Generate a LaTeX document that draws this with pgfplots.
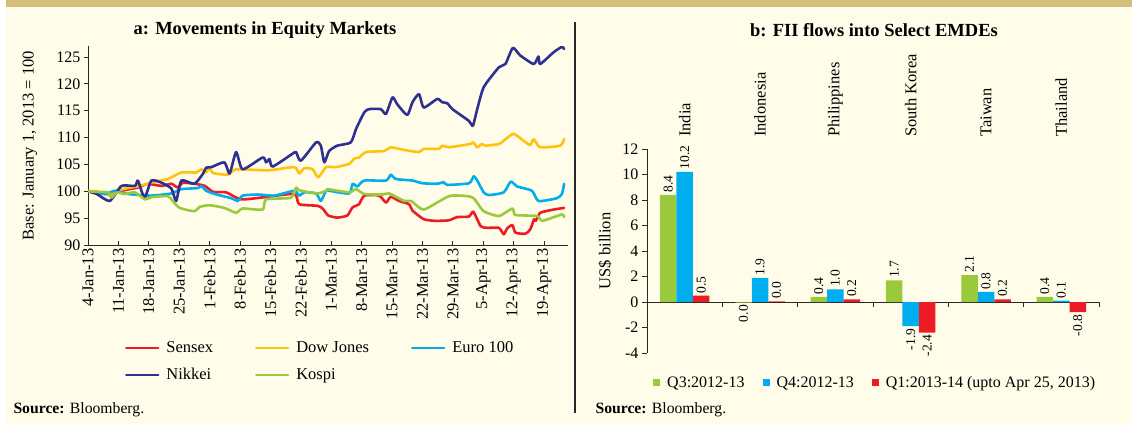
\documentclass[border=0pt]{standalone}
\usepackage{fontspec}
\setmainfont{Liberation Serif}
\usepackage{pgfplots}
\usepackage{pgfplotstable}
\pgfplotsset{compat=1.18}

\definecolor{bgcream}{RGB}{255,253,233}
\definecolor{band}{RGB}{211,190,122}
\definecolor{axisgray}{RGB}{40,40,40}
\definecolor{csensex}{RGB}{237,28,36}
\definecolor{cdow}{RGB}{255,194,14}
\definecolor{ceuro}{RGB}{0,174,239}
\definecolor{cnikkei}{RGB}{46,49,146}
\definecolor{ckospi}{RGB}{154,202,60}

\newcommand{\fs}[1]{\fontsize{#1bp}{#1bp}\selectfont}
% value labels: above (vp) or below (vn) the bar end
\newcommand{\vp}[1]{\makebox[0pt][l]{\hspace{2.5bp}#1}}
\newcommand{\vn}[1]{\makebox[0pt][r]{#1\hspace{2.5bp}}}

% FII flows, US$ billion
\pgfplotstableread{
x y lab
0 8.4 \vp{8.4}
1 -0.05 \vn{0.0}
2 0.4 \vp{0.4}
3 1.7 \vp{1.7}
4 2.1 \vp{2.1}
5 0.4 \vp{0.4}
}\qthree
\pgfplotstableread{
x y lab
0 10.2 \vp{10.2}
1 1.9 \vp{1.9}
2 1.0 \vp{1.0}
3 -1.9 \vn{-1.9}
4 0.8 \vp{0.8}
5 0.1 \vp{0.1}
}\qfour
\pgfplotstableread{
x y lab
0 0.5 \vp{0.5}
1 0.05 \vp{0.0}
2 0.2 \vp{0.2}
3 -2.4 \vn{-2.4}
4 0.2 \vp{0.2}
5 -0.8 \vn{-0.8}
}\qone

\pgfplotsset{
  valbar/.style={
    fill=#1, draw=none,
    nodes near coords,
    point meta=explicit symbolic,
    every node near coord/.append style={rotate=90, anchor=center, font=\fs{13.5}, inner sep=0pt, text=black},
    legend image code/.code={\fill[#1] (0bp,-3.5bp) rectangle (7bp,3.5bp);},
  },
}

\begin{document}
\begin{tikzpicture}[x=1bp,y=1bp]
\fill[white] (0,0) rectangle (1132,425);
\fill[bgcream] (6,0) rectangle (1132,425);
\fill[band] (6,418) rectangle (1132,425);
\draw[axisgray, line width=1.2bp] (575,12) -- (575,403);

\node[font=\fs{18.5}\bfseries] at (265,395) {a: Movements in Equity Markets};
\node[font=\fs{18.5}\bfseries] at (874,395) {b: FII flows into Select EMDEs};
\node[font=\fs{15.7}, anchor=base west] at (10,12) {\textbf{Source:} Bloomberg.};
\node[font=\fs{15.7}, anchor=base west] at (592,12) {\textbf{Source:} Bloomberg.};

\begin{axis}[
  at={(88bp,180bp)}, anchor=south west,
  scale only axis, width=480bp, height=198.7bp,
  xmin=0, xmax=110.5, ymin=90, ymax=127,
  axis x line*=bottom, axis y line*=left,
  axis line style={axisgray, line width=0.9bp, -},
  every tick/.style={axisgray, line width=0.8bp},
  major tick length=4bp,
  xtick align=inside, ytick align=outside,
  xtick={0,7,...,105},
  xticklabels={4-Jan-13,11-Jan-13,18-Jan-13,25-Jan-13,1-Feb-13,8-Feb-13,15-Feb-13,22-Feb-13,1-Mar-13,8-Mar-13,15-Mar-13,22-Mar-13,29-Mar-13,5-Apr-13,12-Apr-13,19-Apr-13},
  xticklabel style={rotate=90, anchor=east, font=\fs{16.5}},
  ytick={90,95,...,125},
  yticklabel style={font=\fs{16}},
  /pgf/number format/assume math mode=true,
  ylabel={Base: January 1, 2013 = 100},
  ylabel style={at={(axis description cs:-0.121,0.5)}, anchor=center, font=\fs{16.5}},
  legend columns=3,
  legend cell align=left,
  legend style={at={(axis description cs:0.077,-0.586)}, anchor=west, draw=none, fill=none,
    font=\fs{16.5}, inner sep=0pt, row sep=10bp,
    /tikz/every odd column/.append style={column sep=5bp},
    /tikz/every even column/.append style={column sep=40bp}},
  legend image code/.code={\draw[#1, line width=2.2bp] (0bp,0bp) -- (32bp,0bp);},
  every axis plot/.append style={line width=2.6bp, line join=round, line cap=round, smooth, tension=0.35},
]
\addplot[csensex] coordinates {(0,100) (5,99.5) (7.7,100.1) (11.5,100.7) (13.8,101.4) (16.9,101) (19.2,101.4) (20.7,100.7) (21.9,101.6) (25.3,101.3) (26.9,101) (28.8,99.9) (31.8,99.8) (35.2,98.5) (40.6,98.9) (47.5,99.5) (48.6,97.6) (52.8,97.3) (54,96.8) (55.3,95.5) (57.4,95.1) (59.7,95.5) (60.9,97) (62.4,97.6) (63.6,99.2) (67,99.2) (68.6,97.9) (69.7,99) (71.6,98.2) (73.9,97.6) (74.7,96.4) (77.3,94.8) (80,94.5) (83.1,94.6) (85,95.2) (87.7,95.3) (88.7,96.2) (90.4,93.5) (91.9,93.2) (94.6,93.2) (95.7,92) (96.5,93.1) (97.7,93.7) (98.4,92.3) (100.7,92.1) (101.8,92.9) (102.7,94.8) (103.1,94.5) (104.1,96) (107.2,96.6) (109.6,96.9)};
\addlegendentry{Sensex}
\addplot[cdow] coordinates {(0,100) (2,100) (4.7,99.3) (6.6,100.1) (9.2,100.6) (11.9,101) (15.4,101.8) (18.4,102.3) (21.5,103.5) (24.9,103.5) (26.1,104.1) (27.2,103.5) (28,104.4) (28.8,103.4) (32.2,103.1) (34.1,104.1) (41.4,103.9) (47.5,104.5) (48.6,103.3) (49.8,104.3) (51.7,104.1) (53,102.6) (54.8,104.5) (57,104.5) (60.1,105.1) (61.3,106.1) (62.4,106.3) (64,107.3) (68.2,107.5) (69.7,108.2) (72.8,107.7) (76.2,107.3) (77.3,107.9) (80.8,107.9) (81.5,108.5) (83.1,108.2) (88,108.8) (88.7,109.1) (89.6,108.2) (90.7,108.8) (91.5,108.5) (94.6,108.8) (96.1,109.7) (98,110.7) (100.3,109.4) (101.8,108.6) (102.6,109.7) (104.1,108.2) (108.7,108.5) (109.6,109.7)};
\addlegendentry{Dow Jones}
\addplot[ceuro] coordinates {(0,100) (3.9,99.5) (6.2,100.1) (9.2,99.5) (14.6,99.2) (19.2,99.6) (21.5,100.4) (25.3,100.6) (26.1,101) (27.2,100.1) (29.2,99.5) (33,98.7) (34.5,98.2) (35.6,99.2) (39.1,99.4) (42.9,99.2) (47.5,100.1) (48.6,99.2) (49.8,99.8) (52.5,99.6) (53.6,98.2) (54.8,100.1) (55.5,100.1) (60.1,99.6) (60.9,101.4) (62,100.9) (63.6,102) (68.6,102) (69.7,103.1) (70.8,102.3) (74.7,102) (77,101.5) (80.4,101.4) (81.9,101.7) (82.7,101.2) (87.7,101.5) (88.8,102.8) (89.6,102) (91.1,99.8) (92.3,99.3) (95.7,99.8) (97.3,101.8) (98.8,100.9) (102.2,100.1) (103.7,98.2) (107.9,98.7) (109.1,99.5) (109.6,101.4)};
\addlegendentry{Euro 100}
\addplot[cnikkei] coordinates {(0,100) (2,99.5) (5,98.2) (7.7,101) (10.8,101) (11.5,102) (13,98.8) (14.6,102) (16.9,101.6) (19.2,100.5) (20.3,98.2) (21.5,102) (24.5,101.4) (26.5,103.3) (27.2,104.4) (28.4,104.5) (31.4,105.4) (32.6,103.3) (34.1,107.3) (35.6,104.1) (40.2,106.3) (41,105.4) (41.8,106) (42.5,104.6) (47.1,107) (47.9,107.3) (49,105.7) (52.5,109.1) (53.6,108.5) (54.4,105.4) (55.5,107.5) (57.4,108.5) (60.5,109.1) (61.7,111.6) (63.6,114.7) (64.7,115.3) (67.4,115.3) (68.6,114.4) (70.1,117.5) (71.2,116.2) (73.5,114.2) (74.7,116.6) (76.2,118.1) (77.3,115.6) (80.4,117.2) (81.5,116.6) (82.7,116.4) (83.9,115.3) (87.7,113.1) (88.6,112.2) (89.6,115.3) (91.1,119.4) (94.6,123.1) (96.1,123.7) (97.8,126.7) (99.5,125.3) (102.6,123.7) (103.7,125.1) (104.1,123.7) (107.2,125.9) (109.1,126.9) (109.6,126.5)};
\addlegendentry{Nikkei}
\addplot[ckospi] coordinates {(0,100) (2.2,99.9) (4.7,99.8) (5.4,98.8) (6.6,99.8) (8.5,99.5) (10.8,99.8) (13.1,98.5) (14.6,98.9) (18.4,99.1) (19.5,98.2) (21.1,96.9) (24.5,96.3) (25.7,97.1) (28,97.4) (31.4,96.9) (34.1,96) (35.6,96.8) (40.2,96.6) (41,98.5) (46.7,98.8) (47.9,100.7) (48.6,100.2) (52.8,99.6) (54.8,100.1) (55.2,100.4) (60.1,99.8) (61.7,100.4) (63.6,99.5) (67.8,99.4) (69.3,99.6) (72.8,98.2) (74.4,98.2) (77.3,96.6) (83.1,99.1) (87.3,99.1) (88.8,98.7) (91.1,96.3) (94.6,95.4) (97.7,96.8) (98.4,95.6) (103.4,95.4) (104.6,94.5) (109.1,95.7) (109.6,95.2)};
\addlegendentry{Kospi}
\end{axis}

\begin{axis}[
  at={(647bp,72bp)}, anchor=south west,
  scale only axis, width=452bp, height=204bp,
  xmin=-0.5, xmax=5.5, ymin=-4, ymax=12,
  axis y line*=left, axis x line*=middle,
  axis line style={axisgray, line width=0.9bp, -},
  every tick/.style={axisgray, line width=0.8bp},
  major tick length=5bp,
  xtick align=outside, ytick align=outside,
  hide obscured x ticks=false, hide obscured y ticks=false,
  xtick={0.5,1.5,...,5.5}, xticklabels={},
  ytick={-4,-2,...,12},
  yticklabel style={font=\fs{16}},
  /pgf/number format/assume math mode=true,
  ylabel={US\$ billion},
  ylabel style={at={(axis description cs:-0.093,0.5)}, anchor=center, font=\fs{16.5}},
  clip=false,
  ybar=0pt, bar width=16.5bp,
  legend columns=3,
  legend style={at={(axis description cs:0.0133,-0.147)}, anchor=west, draw=none, fill=none,
    font=\fs{16}, inner sep=0pt,
    /tikz/every odd column/.append style={column sep=5bp},
    /tikz/every even column/.append style={column sep=16bp}},
]
\addplot[valbar=ckospi] table[x=x, y=y, meta=lab] {\qthree};
\addlegendentry{Q3:2012-13}
\addplot[valbar=ceuro] table[x=x, y=y, meta=lab] {\qfour};
\addlegendentry{Q4:2012-13}
\addplot[valbar=csensex] table[x=x, y=y, meta=lab] {\qone};
\addlegendentry{Q1:2013-14 (upto Apr 25, 2013)}
\node[rotate=90, anchor=west, inner sep=0pt, font=\fs{16.5}] at (axis cs:0,12.94) {India};
\node[rotate=90, anchor=west, inner sep=0pt, font=\fs{16.5}] at (axis cs:1,12.94) {Indonesia};
\node[rotate=90, anchor=west, inner sep=0pt, font=\fs{16.5}] at (axis cs:2,12.94) {Philippines};
\node[rotate=90, anchor=west, inner sep=0pt, font=\fs{16.5}] at (axis cs:3,12.94) {South Korea};
\node[rotate=90, anchor=west, inner sep=0pt, font=\fs{16.5}] at (axis cs:4,12.94) {Taiwan};
\node[rotate=90, anchor=west, inner sep=0pt, font=\fs{16.5}] at (axis cs:5,12.94) {Thailand};
\end{axis}
\end{tikzpicture}
\end{document}
